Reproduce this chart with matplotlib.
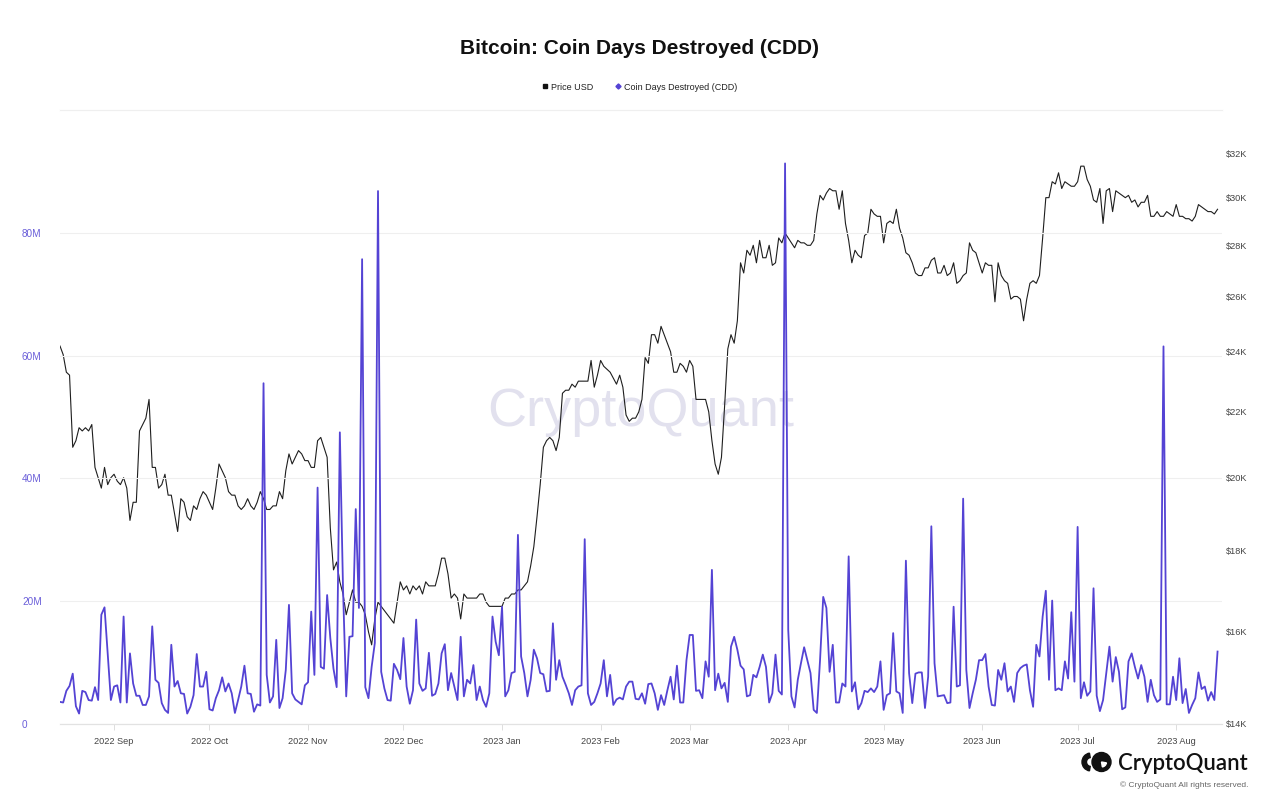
import matplotlib
matplotlib.use('Agg')
import matplotlib.pyplot as plt
import matplotlib.dates as mdates
from matplotlib.ticker import FixedLocator, FuncFormatter, NullLocator
from matplotlib.lines import Line2D
from matplotlib.patches import Circle, Wedge
import pandas as pd

plt.rcParams['font.family'] = ['Liberation Sans', 'DejaVu Sans']

# daily values, 2022-08-15 .. 2023-08-14
start_date = '2022-08-15'

# Coin Days Destroyed, millions
cdd_m = [
    3.6, 3.5, 5.4, 6.2, 8.2, 2.9, 1.7, 5.4, 5.2, 3.9, 3.8, 6.0, 3.9, 17.8, 19.0, 11.5, 3.9, 6.1, 6.3, 3.5,
    17.5, 3.5, 11.5, 6.6, 4.6, 4.6, 3.1, 3.1, 4.5, 15.9, 7.2, 6.7, 3.4, 2.3, 1.8, 12.9, 6.1, 7.0, 5.0, 4.9,
    1.7, 2.8, 4.7, 11.4, 6.1, 6.1, 8.5, 2.4, 2.2, 4.2, 5.5, 7.6, 5.3, 6.6, 5.0, 1.8, 3.9, 6.1, 9.5, 5.0,
    4.9, 2.0, 3.2, 3.0, 55.5, 8.0, 3.5, 4.5, 13.7, 2.6, 4.2, 8.8,
    19.4, 5.0, 4.0, 3.6, 3.2, 6.3, 6.8, 18.3, 8.0, 38.5, 9.3, 9.0, 21.0, 14.0, 9.0, 6.0, 47.5, 22.0, 4.5, 14.2,
    14.3, 35.0, 18.9, 75.7, 6.0, 4.2, 9.3, 13.2, 86.8, 8.5, 5.8, 3.9, 3.8, 9.8, 8.8, 7.3, 14.0, 6.1, 3.3, 5.5,
    17.0, 6.6, 5.4, 5.8, 11.6, 4.6, 4.9, 6.6, 11.5, 13.0, 5.5, 8.3, 6.1, 3.9, 14.2, 4.5, 7.2, 6.6, 9.6, 3.9,
    6.1, 3.9, 2.8, 5.0, 17.5, 13.4, 11.2, 19.1, 4.5, 5.5, 8.3, 8.5, 30.8, 11.0, 8.3, 4.5, 7.2,
    12.1, 10.7, 8.3, 8.1, 5.3, 5.4, 16.4, 7.2, 10.4, 7.7, 6.4, 5.0, 3.1, 5.5, 6.1, 6.3, 30.1, 5.0, 3.1, 3.6,
    5.0, 6.6, 10.4, 4.5, 8.0, 3.1, 4.0, 4.3, 4.0, 6.1, 6.9, 6.9, 4.1, 4.0, 5.0, 3.3, 6.5, 6.6, 5.0, 2.3,
    4.7, 3.1, 5.5, 7.7, 4.0, 9.5, 3.5, 3.5, 10.4, 14.5, 14.5, 5.4, 5.5, 4.2, 10.2, 7.7, 25.1, 5.5, 8.2, 5.8,
    6.7, 3.6, 12.6, 14.2, 12.1, 9.5, 8.9, 4.5, 4.7, 8.0, 7.6, 9.3, 11.3, 9.3,
    3.5, 5.0, 11.3, 5.4, 4.8, 91.3, 15.3, 4.5, 2.7, 7.2, 9.9, 12.5, 10.4, 8.3, 2.3, 1.8, 10.4, 20.7, 18.9, 8.5,
    12.9, 3.5, 3.5, 6.6, 6.1, 27.3, 5.3, 6.8, 2.4, 3.4, 5.4, 5.2, 5.8, 5.2, 6.1, 10.2, 2.3, 4.7, 5.0, 14.8,
    5.3, 5.0, 1.8, 26.6, 8.3, 3.4, 8.2, 8.4, 8.4, 2.6, 7.7, 32.2, 9.9, 4.5, 4.6, 4.7, 3.4, 3.5, 19.1, 6.1,
    6.3, 36.7, 8.8, 2.6, 5.0, 7.2, 10.4, 10.4, 11.4, 6.1, 3.1, 3.0, 8.8, 7.2,
    9.9, 5.3, 6.1, 3.6, 8.3, 9.1, 9.5, 9.7, 5.5, 2.8, 12.9, 11.0, 17.5, 21.7, 7.2, 20.1, 5.5, 5.8, 5.5, 10.2,
    7.4, 18.2, 6.9, 32.1, 4.2, 6.8, 4.6, 5.3, 22.1, 4.6, 2.1, 3.9, 8.3, 12.6, 6.9, 10.9, 8.5, 2.4, 2.7, 10.2,
    11.5, 9.3, 7.4, 9.6, 7.7, 3.6, 7.2, 4.7, 3.6, 4.0, 61.5, 3.2, 3.2, 7.7, 3.9, 10.7, 3.4, 5.7, 1.8, 3.1,
    4.2, 8.4, 5.7, 6.1, 3.8, 5.2, 3.9, 11.8,
]

# BTC price, thousand USD
price_k = [
    24.2, 23.9, 23.3, 23.2, 20.9, 21.1, 21.5, 21.4, 21.5, 21.4, 21.6, 20.3, 20.0, 19.7, 20.3, 19.8, 20.0, 20.1, 19.9, 19.8,
    20.0, 19.7, 18.8, 19.3, 19.3, 21.4, 21.6, 21.8, 22.4, 20.3, 20.3, 19.7, 19.8, 20.1, 19.5, 19.5, 19.0, 18.5, 19.4, 19.3,
    18.9, 18.8, 19.2, 19.1, 19.4, 19.6, 19.5, 19.3, 19.1, 19.7, 20.4, 20.2, 20.0, 19.6, 19.5, 19.5, 19.2, 19.1, 19.2, 19.4,
    19.2, 19.1, 19.3, 19.6, 19.4, 19.1, 19.1, 19.2, 19.2, 19.6, 19.4, 20.2, 20.7, 20.4, 20.6, 20.8, 20.7, 20.5, 20.5, 20.3,
    20.3, 21.1, 21.2, 20.9, 20.6, 18.6, 17.5, 17.7, 17.2, 16.9, 16.4, 16.7, 17.0,
    16.7, 16.7, 16.6, 16.4, 16.0, 15.7, 16.3, 16.7, 16.6, 16.5, 16.4, 16.3, 16.2, 16.7, 17.2, 17.0, 17.1, 16.9, 17.1, 17.0,
    17.1, 16.9, 17.2, 17.1, 17.1, 17.1, 17.4, 17.8, 17.8, 17.4, 16.8, 16.9, 16.8, 16.3, 16.9, 16.8, 16.8, 16.8, 16.8, 16.9,
    16.9, 16.7, 16.6, 16.6, 16.6, 16.6, 16.6, 16.8, 16.8, 16.9, 16.9, 17.0, 17.0, 17.1, 17.2, 17.6, 18.1, 18.9, 19.8, 20.9,
    21.1, 21.2, 21.1, 20.8, 21.2, 22.6, 22.7, 22.7, 22.9, 22.8, 23.0, 23.0, 23.0, 23.0, 23.7, 22.8, 23.2, 23.7, 23.5, 23.4,
    23.3, 23.1, 22.9, 23.2, 22.8, 21.9, 21.7, 21.8, 21.8, 22.0, 22.4, 23.8,
    23.6, 24.6, 24.6, 24.3, 24.9, 24.6, 24.3, 24.0, 23.3, 23.3, 23.6, 23.5, 23.3, 23.7, 23.5, 22.4, 22.4, 22.4, 22.4, 22.0,
    21.1, 20.4, 20.1, 20.6, 22.2, 24.1, 24.6, 24.3, 25.1, 27.3, 26.9, 27.8, 27.6, 28.0, 27.3, 28.2, 27.5, 27.5, 28.0, 27.2,
    27.3, 28.3, 28.1, 28.5, 28.3, 28.1, 27.9, 28.2, 28.1, 28.1, 28.0, 28.0, 28.2, 29.3, 30.1, 29.9, 30.2, 30.4, 30.3, 30.3,
    29.5, 30.3, 28.9, 28.2, 27.3, 27.8, 27.6, 27.5, 28.4, 28.5, 29.5, 29.3, 29.2, 29.2, 28.1, 28.9, 29.0, 28.9, 29.5, 28.7,
    28.3, 27.7, 27.6, 27.3, 26.9, 26.8, 26.8, 27.1, 27.1, 27.4,
    27.5, 26.9, 26.9, 27.2, 26.8, 26.9, 27.3, 26.5, 26.6, 26.8, 26.9, 28.1, 27.8, 27.7, 27.3, 26.9, 27.3, 27.2, 27.2, 25.8,
    27.3, 26.8, 26.6, 26.5, 25.9, 26.0, 26.0, 25.9, 25.1, 25.9, 26.5, 26.6, 26.5, 26.8, 28.3, 30.0, 30.0, 30.7, 30.6, 31.1,
    30.4, 30.7, 30.6, 30.5, 30.5, 30.7, 31.4, 31.4, 30.8, 30.5, 29.9, 29.8, 30.4, 28.9, 30.3, 30.4, 29.4, 30.3, 30.2, 30.1,
    30.0, 30.1, 29.8, 29.9, 29.6, 29.8, 29.8, 30.1, 29.2, 29.2, 29.4, 29.2, 29.2, 29.4, 29.3, 29.2, 29.7, 29.2, 29.2, 29.1,
    29.1, 29.0, 29.2, 29.7, 29.6, 29.5, 29.4, 29.4, 29.3, 29.5,
]

cdd_ticks = [0, 20, 40, 60, 80]
price_ticks = [14, 16, 18, 20, 22, 24, 26, 28, 30, 32]

n = min(len(cdd_m), len(price_k))
dates = pd.date_range(start_date, periods=n, freq='D')
cdd = [v * 1e6 for v in cdd_m[:n]]
price = [v * 1e3 for v in price_k[:n]]

purple = '#5443d4'
grid_c = '#efefef'

fig = plt.figure(figsize=(12.8, 8.06), dpi=100)
W, H = 1280, 806
ax = fig.add_axes([60 / W, 1 - 724 / H, (1222 - 60) / W, (724 - 110) / H])
ax2 = ax.twinx()
ax.set_zorder(ax2.get_zorder() + 1)
ax.patch.set_visible(False)

# price on right (log) axis
ax2.plot(dates, price, color='#1e1e1e', lw=0.8, zorder=3)
ax2.set_yscale('log')
ax2.set_ylim(14000, 34060)
ax2.yaxis.set_major_locator(FixedLocator([t * 1000 for t in price_ticks]))
ax2.yaxis.set_minor_locator(NullLocator())
ax2.yaxis.set_major_formatter(FuncFormatter(lambda v, p: f'${v / 1000:.0f}K'))
ax2.tick_params(axis='y', length=0, pad=3, labelsize=6.6, labelcolor='#444444')
ax2.text(0.5, 0.508, 'CryptoQuant', transform=ax2.transAxes, ha='center', va='center',
         fontsize=39, color='#e2e1ee', zorder=0)

# CDD on left axis
ax.plot(dates, cdd, color=purple, lw=1.3, zorder=4)
ax.set_ylim(0, 100e6)
ax.set_yticks([t * 1e6 for t in cdd_ticks])
ax.set_yticklabels([('0' if t == 0 else f'{t}M') for t in cdd_ticks])
ax.tick_params(axis='y', length=0, pad=27.4, labelsize=7.2, labelcolor='#6a5ed9')
for lab in ax.get_yticklabels():
    lab.set_horizontalalignment('left')
ax.yaxis.grid(True, color=grid_c, lw=0.8)
ax.set_axisbelow(True)

ax.set_xlim(dates[0], dates[0] + pd.Timedelta(days=365.4))
ax.xaxis.set_major_locator(mdates.MonthLocator(bymonthday=1))
ax.xaxis.set_major_formatter(mdates.DateFormatter('%Y %b'))
ax.tick_params(axis='x', length=4, width=0.6, color='#d8d8d8', pad=5.2, labelsize=6.6, labelcolor='#444444')

for a in (ax, ax2):
    for s in ('left', 'right'):
        a.spines[s].set_visible(False)
    a.spines['top'].set_color(grid_c)
    a.spines['top'].set_linewidth(0.8)
    a.spines['bottom'].set_color('#e2e2e2')
    a.spines['bottom'].set_linewidth(0.8)

fig.text(0.5, 1 - 49 / H, 'Bitcoin: Coin Days Destroyed (CDD)', ha='center', va='center',
         fontsize=15, fontweight='bold', color='#111111')

handles = [
    Line2D([], [], ls='none', marker='s', ms=2.6, color='#111111'),
    Line2D([], [], ls='none', marker='D', ms=2.6, color=purple),
]
fig.legend(handles, ['Price USD', 'Coin Days Destroyed (CDD)'], loc='center',
           bbox_to_anchor=(0.5, 1 - 87 / H), ncol=2, frameon=False, fontsize=6.5,
           handlelength=0.5, handletextpad=0.4, columnspacing=2.6, labelcolor='#222222')

# logo bottom right
lax = fig.add_axes([1080 / W, 1 - 774 / H, 32 / W, 24 / H])
lax.set_xlim(0, 32)
lax.set_ylim(0, 24)
lax.set_aspect('equal')
lax.axis('off')
lax.add_patch(Wedge((11, 12), 9, 100, 260, width=4.5, color='#111111'))
lax.add_patch(Circle((21.5, 12), 9.5, color='#111111'))
lax.add_patch(Wedge((21.5, 12), 5, 280, 350, color='white'))
logo = fig.text(1118 / W, 1 - 763 / H, 'CryptoQuant', ha='left', va='center', fontsize=16.5,
                color='#111111', family=['Lato', 'Liberation Sans'], fontweight='semibold')
copy = fig.text(1248 / W, 1 - 785 / H, '\u00a9 CryptoQuant All rights reserved.', ha='right',
                va='center', fontsize=6.0, color='#666666')

# fit logo word to its width in the reference (130 px)
fig.canvas.draw()
bb = logo.get_window_extent()
logo.set_fontsize(16.5 * 130 / bb.width)

fig.savefig('out.png', dpi=100)
